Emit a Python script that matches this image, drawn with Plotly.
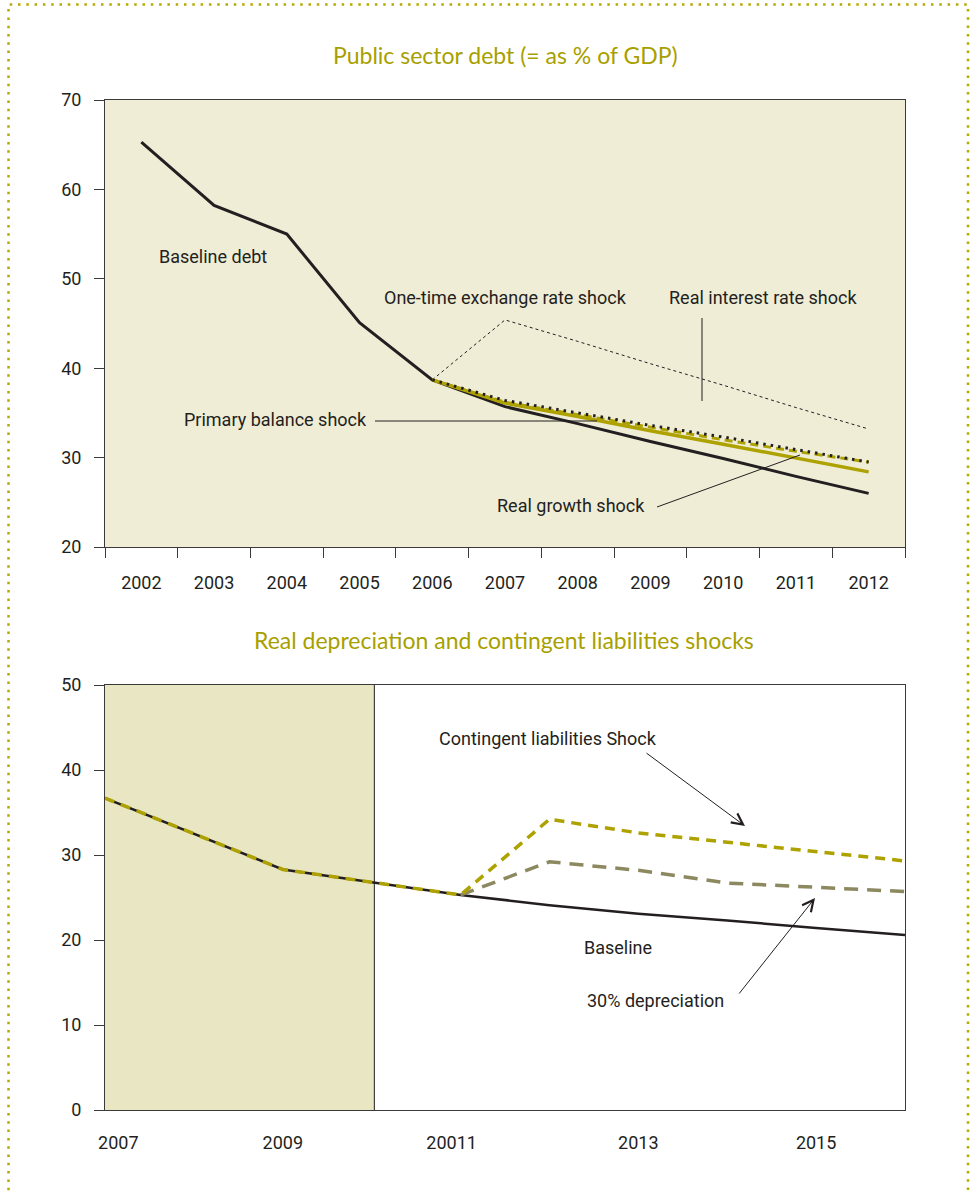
import plotly.graph_objects as go

W, H = 975, 1191

# ---------------- data: top chart ----------------
years_top = ["2002", "2003", "2004", "2005", "2006", "2007", "2008", "2009", "2010", "2011", "2012"]
baseline_debt = [65.3, 58.2, 55.0, 45.1, 38.7, 35.7, 33.8, 31.8, 29.9, 27.9, 26.0]
exchange_rate_shock = [None, None, None, None, 38.7, 45.4, 43.0, 40.5, 38.1, 35.6, 33.2]
real_growth_shock = [None, None, None, None, 38.7, 36.1, 34.6, 33.0, 31.5, 29.9, 28.4]
real_interest_shock = [None, None, None, None, 38.7, 36.2, 34.8, 33.4, 32.0, 30.7, 29.5]
primary_balance_shock = [None, None, None, None, 38.7, 36.4, 35.0, 33.6, 32.3, 30.9, 29.5]

# ---------------- data: bottom chart ----------------
years_bottom = [2007, 2008, 2009, 2010, 2011, 2012, 2013, 2014, 2015, 2016]
baseline = [36.7, 32.5, 28.3, 26.8, 25.3, 24.1, 23.1, 22.3, 21.4, 20.6]
contingent_shock = [36.7, 32.5, 28.3, 26.8, 25.3, 34.2, 32.6, 31.5, 30.4, 29.3]
depreciation_30 = [None, None, None, None, 25.3, 29.2, 28.2, 26.7, 26.2, 25.7]
bottom_tickvals = [2007.15, 2009, 2010.9, 2013, 2015]
bottom_ticktext = ["2007", "2009", "20011", "2013", "2015"]

BLACK = "#231f20"
OLIVE = "#ada200"
TITLE = "#a89f00"
GREY_OLIVE = "#8c8860"
FONT = "Roboto, Liberation Sans, Arial, sans-serif"
TFONT = "Lato, Open Sans, sans-serif"


def px(x):
    return x / W


def py(y):
    return 1 - y / H


fig = go.Figure()

# top chart traces
fig.add_trace(go.Scatter(x=years_top, y=exchange_rate_shock, mode="lines",
                         line=dict(color=BLACK, width=1, dash="3px,3px"), xaxis="x", yaxis="y"))
fig.add_trace(go.Scatter(x=years_top, y=baseline_debt, mode="lines",
                         line=dict(color=BLACK, width=3), xaxis="x", yaxis="y"))
fig.add_trace(go.Scatter(x=years_top, y=real_growth_shock, mode="lines",
                         line=dict(color=OLIVE, width=3.5), xaxis="x", yaxis="y"))
fig.add_trace(go.Scatter(x=years_top, y=real_interest_shock, mode="lines",
                         line=dict(color=OLIVE, width=3, dash="8px,5px"), xaxis="x", yaxis="y"))
fig.add_trace(go.Scatter(x=years_top, y=primary_balance_shock, mode="lines",
                         line=dict(color=BLACK, width=3, dash="2.5px,5px"), xaxis="x", yaxis="y"))

# bottom chart traces
fig.add_trace(go.Scatter(x=years_bottom, y=baseline, mode="lines",
                         line=dict(color=BLACK, width=2.5), xaxis="x2", yaxis="y2"))
fig.add_trace(go.Scatter(x=years_bottom, y=depreciation_30, mode="lines",
                         line=dict(color=GREY_OLIVE, width=3.5, dash="14px,9px"), xaxis="x2", yaxis="y2"))
fig.add_trace(go.Scatter(x=years_bottom, y=contingent_shock, mode="lines",
                         line=dict(color=OLIVE, width=3.5, dash="10px,7px"), xaxis="x2", yaxis="y2"))

axis_common = dict(showgrid=False, zeroline=False, showline=True, linecolor="#3a3a3a",
                   linewidth=1, mirror=True, automargin=False)

fig.update_layout(
    width=W, height=H,
    margin=dict(l=0, r=0, t=0, b=0, pad=0, autoexpand=False),
    paper_bgcolor="white",
    plot_bgcolor="rgba(0,0,0,0)",
    showlegend=False,
    font=dict(family=FONT, color=BLACK, size=17),
    xaxis=dict(axis_common, domain=[px(105), px(905)], anchor="y", type="category",
               range=[-0.5, 10.5], tickson="boundaries", ticks="outside", ticklen=10,
               tickcolor="#3a3a3a", ticklabelstandoff=19,
               tickfont=dict(family=FONT, size=18, color=BLACK)),
    yaxis=dict(axis_common, domain=[py(547), py(100)], anchor="x", range=[20, 70], dtick=10,
               ticks="outside", ticklen=10, tickcolor="#3a3a3a", ticklabelstandoff=9,
               tickfont=dict(family=FONT, size=18, color=BLACK)),
    xaxis2=dict(axis_common, domain=[px(105), px(905)], anchor="y2", range=[2007, 2016],
                tickvals=bottom_tickvals, ticktext=bottom_ticktext, ticks="",
                ticklabelstandoff=16, tickfont=dict(family=FONT, size=18, color=BLACK)),
    yaxis2=dict(axis_common, domain=[py(1110), py(685)], anchor="x2", range=[0, 50], dtick=10,
                ticks="outside", ticklen=10, tickcolor="#3a3a3a", ticklabelstandoff=9,
                tickfont=dict(family=FONT, size=18, color=BLACK)),
)

shapes = []
# top plot background
shapes.append(dict(type="rect", xref="x domain", yref="y domain", x0=0, x1=1, y0=0, y1=1,
                   fillcolor="#efedd6", line=dict(width=0), layer="below"))
# bottom shaded historical region
shapes.append(dict(type="rect", xref="x2", yref="y2", x0=2007, x1=2010.03, y0=0, y1=50,
                   fillcolor="#e9e6c4", line=dict(width=0), layer="below"))
shapes.append(dict(type="line", xref="x2", yref="y2", x0=2010.03, x1=2010.03, y0=0, y1=50,
                   line=dict(color=BLACK, width=1), layer="below"))
# leader lines (top chart)
for (x0, y0, x1, y1) in [(702, 318, 702, 401), (375, 421, 597, 421), (657, 507, 800, 455)]:
    shapes.append(dict(type="line", xref="paper", yref="paper", x0=px(x0), y0=py(y0),
                       x1=px(x1), y1=py(y1), line=dict(color=BLACK, width=1)))
# dotted outer frame
shapes.append(dict(type="rect", xref="paper", yref="paper", x0=px(8.5), x1=px(968),
                   y0=py(1210), y1=py(4.5), line=dict(color="#b5a800", width=2.5, dash="2.5px,5.8px"),
                   fillcolor="rgba(0,0,0,0)"))
fig.update_layout(shapes=shapes)

ann = []


def text(x, y, s, size=18, family=FONT, color=BLACK):
    ann.append(dict(xref="paper", yref="paper", x=px(x), y=py(y), text=s, showarrow=False,
                    xanchor="center", yanchor="middle", font=dict(family=family, size=size, color=color)))


text(505, 55, "Public sector debt (= as % of GDP)", size=23, family=TFONT, color=TITLE)
text(504, 640, "Real depreciation and contingent liabilities shocks", size=23, family=TFONT, color=TITLE)
text(213, 256, "Baseline debt")
text(505, 297, "One-time exchange rate shock")
text(763, 297, "Real interest rate shock")
text(275, 420, "Primary balance shock")
text(571, 505, "Real growth shock")
text(548, 738, "Contingent liabilities Shock")
text(618, 947, "Baseline")
text(655, 1000, "30% depreciation")

# arrows (bottom chart)
for (tx, ty, hx, hy) in [(645, 752, 745, 826), (738, 995, 815, 898)]:
    ann.append(dict(xref="paper", yref="paper", x=px(hx), y=py(hy), ax=tx - hx, ay=ty - hy,
                    axref="pixel", ayref="pixel", text="", showarrow=True, arrowhead=5,
                    arrowsize=2.2, arrowwidth=1, arrowcolor=BLACK))
fig.update_layout(annotations=ann)

fig.write_html("out.html", post_script="document.body.style.margin='0';document.body.style.padding='0';")
